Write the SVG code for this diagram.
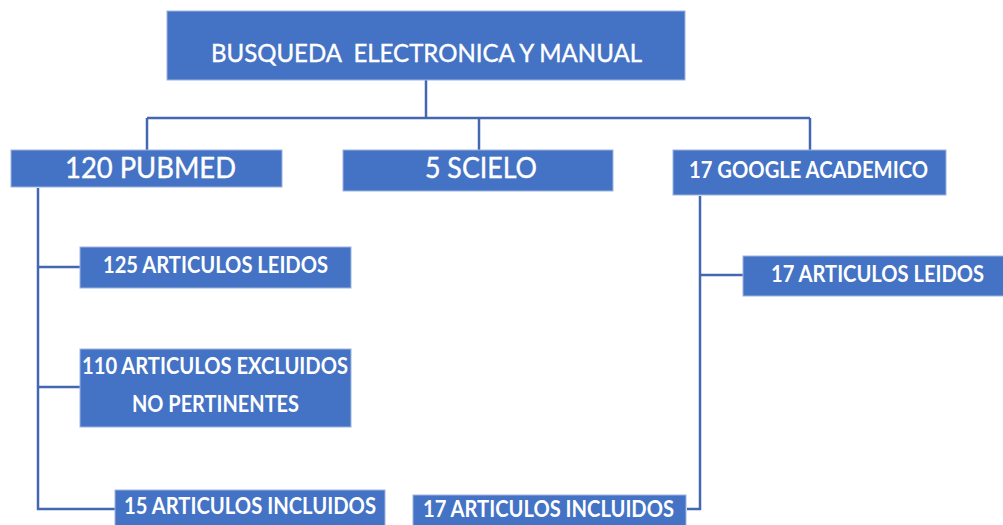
<svg xmlns="http://www.w3.org/2000/svg" width="1003" height="525" viewBox="0 0 1003 525">
<style>
.box{fill:#4472C4;stroke:#9db4e0;stroke-width:1}
.t{fill:#ffffff;font-family:Lato,"Open Sans","Liberation Sans",sans-serif;text-anchor:middle;white-space:pre}
.r{font-weight:normal;stroke:#ffffff;stroke-width:0.4}
.b{font-weight:bold}
.c{fill:none;stroke:#4468b0;stroke-width:2.5}
</style>
<rect width="1003" height="525" fill="#ffffff"/>
<g id="connectors">
<path class="c" d="M426 80 V118 M147 118 H810 M147 118 V150 M479 118 V150 M810 118 V150"/>
<path class="c" d="M38 188 V509 H115 M38 267 H80 M38 387 H80"/>
<path class="c" d="M700 196 V509 H687 M700 275 H743"/>
</g>
<g id="top">
<rect class="box" x="167" y="11" width="518" height="69"/>
<text class="t r" x="426.5" y="62" font-size="25" textLength="431" lengthAdjust="spacingAndGlyphs" xml:space="preserve">BUSQUEDA  ELECTRONICA Y MANUAL</text>
</g>
<g id="pubmed">
<rect class="box" x="11" y="150" width="271" height="37"/>
<text class="t r" x="150.5" y="178" font-size="28" textLength="171" lengthAdjust="spacingAndGlyphs">120 PUBMED</text>
</g>
<g id="scielo">
<rect class="box" x="343" y="150" width="270" height="41"/>
<text class="t r" x="481" y="178" font-size="28" textLength="112" lengthAdjust="spacingAndGlyphs">5 SCIELO</text>
</g>
<g id="google">
<rect class="box" x="673" y="150" width="273" height="45"/>
<text class="t b" x="808.5" y="178" font-size="23" textLength="239" lengthAdjust="spacingAndGlyphs">17 GOOGLE ACADEMICO</text>
</g>
<g id="leidos17">
<rect class="box" x="743" y="256" width="262" height="40"/>
<text class="t b" x="877.5" y="282" font-size="22" textLength="213" lengthAdjust="spacingAndGlyphs">17 ARTICULOS LEIDOS</text>
</g>
<g id="leidos125">
<rect class="box" x="80" y="247" width="271" height="41"/>
<text class="t b" x="215.5" y="273" font-size="22" textLength="225" lengthAdjust="spacingAndGlyphs">125 ARTICULOS LEIDOS</text>
</g>
<g id="excluidos">
<rect class="box" x="80" y="349" width="271" height="78"/>
<text class="t b" x="215" y="374" font-size="22" textLength="266" lengthAdjust="spacingAndGlyphs">110 ARTICULOS EXCLUIDOS</text>
<text class="t b" x="215.5" y="412" font-size="22" textLength="167" lengthAdjust="spacingAndGlyphs">NO PERTINENTES</text>
</g>
<g id="incluidos15">
<rect class="box" x="115" y="490" width="270" height="40"/>
<text class="t b" x="250" y="514" font-size="22" textLength="252" lengthAdjust="spacingAndGlyphs">15 ARTICULOS INCLUIDOS</text>
</g>
<g id="incluidos17">
<rect class="box" x="413" y="495" width="273" height="35"/>
<text class="t b" x="548.5" y="517" font-size="22" textLength="251" lengthAdjust="spacingAndGlyphs">17 ARTICULOS INCLUIDOS</text>
</g>
</svg>
